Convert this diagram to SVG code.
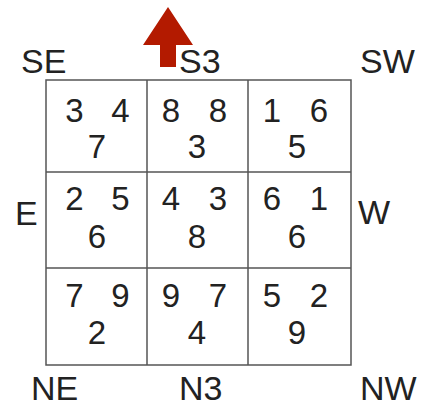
<svg xmlns="http://www.w3.org/2000/svg" width="434" height="409" viewBox="0 0 434 409">
<style>
.t{font-family:"Liberation Sans",Arial,sans-serif;font-size:34px;fill:#222;}
.d{font-family:"Liberation Sans",Arial,sans-serif;font-size:33px;fill:#222;text-anchor:middle;}
.g{fill:none;stroke:#555;stroke-width:1.5;}
</style>
<rect width="434" height="409" fill="#fff"/>
<g id="connectors">
<polygon points="168,7 193,45 176,45 176,67 160,67 160,45 143,45" fill="#b31a00"/>
</g>
<g id="grid">
<rect class="g" x="46" y="80" width="305" height="285"/>
<line class="g" x1="147" y1="80" x2="147" y2="365"/>
<line class="g" x1="248" y1="80" x2="248" y2="365"/>
<line class="g" x1="46" y1="172" x2="351" y2="172"/>
<line class="g" x1="46" y1="268" x2="351" y2="268"/>
</g>
<g id="labels">
<text class="t" x="21" y="73">SE</text>
<text class="t" x="179" y="73">S3</text>
<text class="t" x="360" y="73">SW</text>
<text class="t" x="15" y="225">E</text>
<text class="t" x="358" y="224">W</text>
<text class="t" x="31" y="400">NE</text>
<text class="t" x="179" y="400">N3</text>
<text class="t" x="360" y="400">NW</text>
</g>
<g id="cell-se"><text class="d" x="74.5" y="122">3</text><text class="d" x="120.5" y="122">4</text><text class="d" x="97" y="158">7</text></g>
<g id="cell-s"><text class="d" x="171" y="122">8</text><text class="d" x="218" y="122">8</text><text class="d" x="197" y="158">3</text></g>
<g id="cell-sw"><text class="d" x="272" y="122">1</text><text class="d" x="319" y="122">6</text><text class="d" x="297" y="158">5</text></g>
<g id="cell-e"><text class="d" x="74.5" y="210">2</text><text class="d" x="120.5" y="210">5</text><text class="d" x="97" y="248">6</text></g>
<g id="cell-c"><text class="d" x="171" y="210">4</text><text class="d" x="218" y="210">3</text><text class="d" x="197" y="248">8</text></g>
<g id="cell-w"><text class="d" x="272" y="210">6</text><text class="d" x="319" y="210">1</text><text class="d" x="297" y="248">6</text></g>
<g id="cell-ne"><text class="d" x="74.5" y="307">7</text><text class="d" x="120.5" y="307">9</text><text class="d" x="97" y="344">2</text></g>
<g id="cell-n"><text class="d" x="171" y="307">9</text><text class="d" x="218" y="307">7</text><text class="d" x="197" y="344">4</text></g>
<g id="cell-nw"><text class="d" x="272" y="307">5</text><text class="d" x="319" y="307">2</text><text class="d" x="297" y="344">9</text></g>
</svg>
